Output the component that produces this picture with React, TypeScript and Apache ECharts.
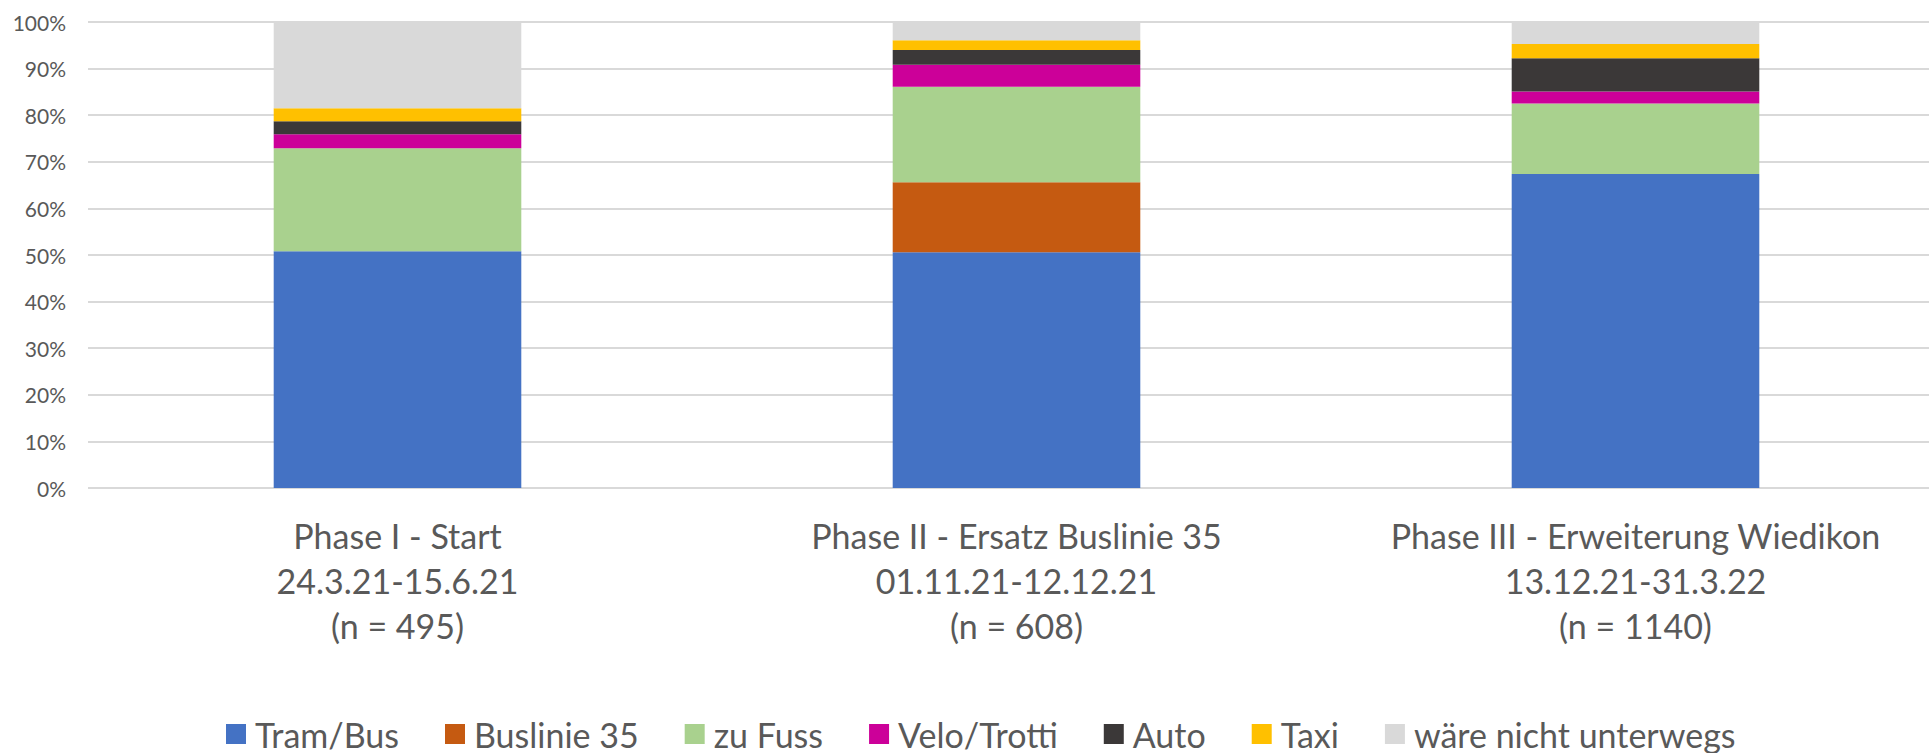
import React, { useEffect, useRef } from "react";
import * as echarts from "echarts";

const phaseNames = ["Phase I - Start", "Phase II - Ersatz Buslinie 35", "Phase III - Erweiterung Wiedikon"];
const phaseDates = ["24.3.21-15.6.21", "01.11.21-12.12.21", "13.12.21-31.3.22"];
const phaseN = [495, 608, 1140];
const categories = phaseNames.map((p, i) => `${p}\n${phaseDates[i]}\n(n = ${phaseN[i]})`);

const seriesNames = ["Tram/Bus", "Buslinie 35", "zu Fuss", "Velo/Trotti", "Auto", "Taxi", "wäre nicht unterwegs"];
const tramBus = [50.8, 50.6, 67.4];
const buslinie35 = [0, 15.0, 0];
const zuFuss = [22.1, 20.5, 15.1];
const veloTrotti = [3.0, 4.7, 2.6];
const auto = [2.8, 3.2, 7.1];
const taxi = [2.8, 2.1, 3.1];
const waereNicht = [18.5, 3.9, 4.7];
const seriesValues = [tramBus, buslinie35, zuFuss, veloTrotti, auto, taxi, waereNicht];
const seriesColors = ["#4472C4", "#C55A11", "#A9D18E", "#CC0099", "#3B3838", "#FFC000", "#D9D9D9"];

const FONT = "Lato";
const TEXT = "#595959";

export default function App() {
  const ref = useRef<HTMLDivElement>(null);
  useEffect(() => {
    if (!ref.current) return;
    const chart = echarts.init(ref.current, undefined, { renderer: "svg" });
    chart.setOption({
      animation: false,
      backgroundColor: "#ffffff",
      grid: { left: 88, top: 22, right: 0, bottom: 265, containLabel: false },
      legend: {
        left: 226,
        top: 717,
        padding: 0,
        itemWidth: 20,
        itemHeight: 20,
        itemGap: 46,
        icon: "rect",
        textStyle: { fontFamily: FONT, fontSize: 34, color: TEXT, lineHeight: 20, padding: [0, 0, 0, 4] },
        data: seriesNames,
      },
      xAxis: {
        type: "category",
        data: categories,
        axisLine: { show: false },
        axisTick: { show: false },
        axisLabel: {
          fontFamily: FONT,
          fontSize: 34,
          color: TEXT,
          lineHeight: 45,
          margin: 25,
          interval: 0,
        },
      },
      yAxis: {
        type: "value",
        min: 0,
        max: 100,
        interval: 10,
        axisLine: { show: false },
        axisTick: { show: false },
        axisLabel: { fontFamily: FONT, fontSize: 21, color: TEXT, margin: 22, formatter: "{value}%" },
        splitLine: { lineStyle: { color: "#D9D9D9", width: 2 } },
      },
      series: seriesNames.map((name, i) => ({
        name,
        type: "bar",
        stack: "total",
        barCategoryGap: "60%",
        data: seriesValues[i],
        itemStyle: { color: seriesColors[i] },
      })),
    });
    return () => chart.dispose();
  }, []);
  return <div ref={ref} style={{ position: "fixed", left: 0, top: 0, width: 1945, height: 753 }} />;
}
